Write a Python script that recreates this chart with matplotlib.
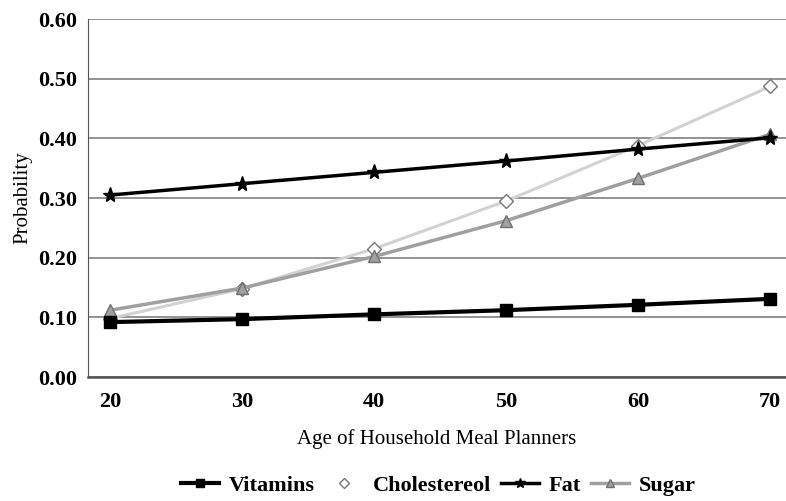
import matplotlib.pyplot as plt

ages = [20, 30, 40, 50, 60, 70]
vitamins = [0.092, 0.097, 0.105, 0.112, 0.121, 0.131]
cholesterol = [0.098, 0.148, 0.215, 0.295, 0.388, 0.487]
fat = [0.305, 0.324, 0.343, 0.362, 0.382, 0.401]
sugar = [0.112, 0.149, 0.202, 0.262, 0.333, 0.407]

plt.rcParams["font.family"] = ["Liberation Serif", "DejaVu Serif"]

fig = plt.figure(figsize=(7.86, 5.01), dpi=100)
ax = fig.add_axes([0.112, 0.2475, 0.888, 0.7145])

ax.plot(ages, cholesterol, color="#d2d2d2", lw=2.2, marker="D", ms=7,
        mfc="white", mec="#777777", mew=1, label="Cholestereol", zorder=3)
ax.plot(ages, sugar, color="#a0a0a0", lw=2.5, marker="^", ms=9,
        mfc="#a0a0a0", mec="#707070", label="Sugar", zorder=4)
ax.plot(ages, fat, color="black", lw=2.5, marker="*", ms=11,
        mfc="black", mec="black", label="Fat", zorder=5)
ax.plot(ages, vitamins, color="black", lw=3, marker="s", ms=9,
        mfc="black", mec="black", label="Vitamins", zorder=6)

ax.set_xlim(18.33, 71.2)
ax.set_ylim(0, 0.6)
ax.set_xticks(ages)
ax.set_yticks([0.0, 0.1, 0.2, 0.3, 0.4, 0.5, 0.6])
ax.set_yticklabels([f"{v:.2f}" for v in ax.get_yticks()])
ax.tick_params(length=0, labelsize=16, pad=8)
for lab in ax.get_xticklabels() + ax.get_yticklabels():
    lab.set_fontweight("bold")
ax.tick_params(axis="x", pad=11)

ax.grid(axis="y", color="#8a8a8a", lw=1.3)
ax.set_axisbelow(True)
for side in ["right", "top"]:
    ax.spines[side].set_visible(False)
ax.spines["left"].set_color("#555555")
ax.spines["bottom"].set_color("#555555")
ax.spines["bottom"].set_linewidth(1.8)

ax.set_xlabel("Age of Household Meal Planners", fontsize=15, labelpad=12)
ax.set_ylabel("Probability", fontsize=15, labelpad=4)

handles, labels = ax.get_legend_handles_labels()
order = [3, 0, 2, 1]
leg = fig.legend([handles[i] for i in order], [labels[i] for i in order],
                 loc="center", bbox_to_anchor=(0.558, 0.03), ncol=4, frameon=False,
                 prop={"weight": "bold", "size": 16}, handlelength=1.7,
                 columnspacing=0.45, handletextpad=0.45, markerscale=0.7)
leg.get_lines()[1].set_linestyle("none")

fig.savefig("out.png", dpi=100)
